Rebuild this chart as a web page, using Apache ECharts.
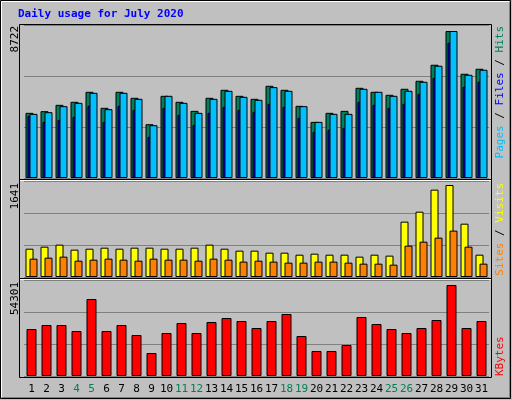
<!DOCTYPE html>
<html><head><meta charset="utf-8">
<script src="https://cdn.jsdelivr.net/npm/echarts@6/dist/echarts.min.js"></script>
<style>html,body{margin:0;padding:0;background:#c0c0c0}#c{width:512px;height:400px}</style>
</head><body><div id="c"></div>
<script>
const days = ['1','2','3','4','5','6','7','8','9','10','11','12','13','14','15','16','17','18','19','20','21','22','23','24','25','26','27','28','29','30','31'];
const weekend = ['4','5','11','12','18','19','25','26'];
const hits = [3866,3965,4341,4520,5114,4163,5114,4758,3192,4876,4520,3984,4758,5233,4876,4698,5471,5233,4282,3330,3866,3984,5352,5114,4936,5293,5768,6720,8722,6185,6482];
const files = [3806,3905,4262,4460,5055,4084,5055,4698,3132,4876,4460,3866,4698,5174,4817,4639,5392,5174,4262,3330,3806,3806,5293,5114,4876,5174,5709,6661,8722,6125,6423];
const pages = [3687,3330,3449,3628,4282,3330,4282,4044,2438,4163,3747,3152,3866,4222,4044,3925,4401,4222,3568,2736,2855,2974,4520,4341,4163,4401,4995,5947,8028,5412,5709];
const visits = [505,541,577,488,505,523,505,523,523,505,505,523,577,505,470,470,434,434,398,416,398,398,363,398,381,987,1165,1558,1641,951,398];
const sites = [327,345,363,291,309,327,309,291,327,309,309,291,327,309,274,291,274,256,256,274,274,256,238,238,220,559,630,702,827,541,238];
const kbytes = [28045,30432,30432,26852,45946,26852,30432,24465,13724,25658,31625,25658,32222,34609,32819,28642,32819,36995,23868,14918,14918,18498,35205,31029,28045,25658,28642,33415,54301,28642,32819];
const maxLabels = ['8722','1641','54301'];
const title = 'Daily usage for July 2020';

const F = 'DejaVu Sans Mono';
const chart = echarts.init(document.getElementById('c'), null, {renderer:'canvas'});
const grids = [
  {left:24,right:23,top:25,height:153},
  {left:24,right:23,top:181,height:96},
  {left:24,right:23,top:280,height:96}
];
const maxes = [8722*153/147, 1641*96/92, 54301*96/91];
const xAxes = grids.map((g,i)=>({type:'category',gridIndex:i,data:days,boundaryGap:true,
  axisLine:{show:false},axisTick:{show:false},
  axisLabel:{show:i===2,interval:0,fontFamily:F,fontSize:11,margin:8,
    color:(v)=>weekend.includes(v)?'#00805c':'#000'}}));
const yAxes = grids.map((g,i)=>({type:'value',gridIndex:i,min:0,max:maxes[i],interval:maxes[i]/3,
  axisLabel:{show:false},axisLine:{show:false},axisTick:{show:false},
  splitLine:{lineStyle:{color:'#808080',width:1}}}));
const bs = (name,data,color,ax,w,gap)=>({type:'bar',name,data,xAxisIndex:ax,yAxisIndex:ax,barWidth:w,
  barGap:gap,itemStyle:{color,borderColor:'#000',borderWidth:1},animation:false});
const rot = Math.PI/2;
chart.setOption({
  backgroundColor:'#c0c0c0',
  animation:false,
  grid:grids, xAxis:xAxes, yAxis:yAxes,
  series:[
    bs('Hits',hits,'#00805c',0,8,'-75%'),
    bs('Pages',pages,'#0000ff',0,8,'-75%'),
    bs('Files',files,'#00c0ff',0,8,'-75%'),
    bs('Visits',visits,'#ffff00',1,8,'-50%'),
    bs('Sites',sites,'#ff8000',1,8,'-50%'),
    bs('KBytes',kbytes,'#ff0000',2,10,'0%')
  ],
  graphic:[
    {type:'rect',shape:{x:0.5,y:0.5,width:510,height:398},style:{fill:null,stroke:'#000',lineWidth:1},z:0},
    {type:'polyline',shape:{points:[[1.5,398],[1.5,1.5],[510,1.5]]},style:{fill:null,stroke:'#fff',lineWidth:1}},
    {type:'polyline',shape:{points:[[1.5,397.5],[509.5,397.5],[509.5,1.5]]},style:{fill:null,stroke:'#808080',lineWidth:1}},
    {type:'rect',shape:{x:19.5,y:24.5,width:472,height:353},style:{fill:null,stroke:'#000',lineWidth:1},z:10},
    {type:'line',shape:{x1:20,y1:179.5,x2:491,y2:179.5},style:{stroke:'#000',lineWidth:1},z:10},
    {type:'line',shape:{x1:20,y1:278.5,x2:491,y2:278.5},style:{stroke:'#000',lineWidth:1},z:10},
    {type:'line',shape:{x1:20,y1:180.5,x2:491,y2:180.5},style:{stroke:'#fff',lineWidth:1},z:10},
    {type:'line',shape:{x1:20,y1:279.5,x2:491,y2:279.5},style:{stroke:'#fff',lineWidth:1},z:10},
    {type:'text',x:18,y:9,style:{text:title,fill:'#0000ff',font:'bold 11px "'+F+'"'}},
    {type:'text',x:15,y:26,rotation:rot,style:{text:maxLabels[0],fill:'#000',font:'11px "'+F+'"',align:'right',verticalAlign:'middle'}},
    {type:'text',x:15,y:183,rotation:rot,style:{text:maxLabels[1],fill:'#000',font:'11px "'+F+'"',align:'right',verticalAlign:'middle'}},
    {type:'text',x:15,y:282,rotation:rot,style:{text:maxLabels[2],fill:'#000',font:'11px "'+F+'"',align:'right',verticalAlign:'middle'}},
    {type:'text',x:500,y:26,rotation:rot,style:{text:'{a|Pages}{s| / }{b|Files}{s| / }{c|Hits}',align:'right',verticalAlign:'middle',
      font:'11px "'+F+'"',rich:{a:{fill:'#00c0ff',font:'11px "'+F+'"'},b:{fill:'#0000ff',font:'11px "'+F+'"'},c:{fill:'#00805c',font:'11px "'+F+'"'},s:{fill:'#000',font:'11px "'+F+'"'}}}},
    {type:'text',x:500,y:183,rotation:rot,style:{text:'{a|Sites}{s| / }{b|Visits}',align:'right',verticalAlign:'middle',
      font:'11px "'+F+'"',rich:{a:{fill:'#ff8000',font:'11px "'+F+'"'},b:{fill:'#ffff00',font:'11px "'+F+'"'},s:{fill:'#000',font:'11px "'+F+'"'}}}},
    {type:'text',x:500,y:376,rotation:rot,style:{text:'KBytes',fill:'#ff0000',font:'11px "'+F+'"',align:'left',verticalAlign:'middle'}}
  ]
});
</script></body></html>
